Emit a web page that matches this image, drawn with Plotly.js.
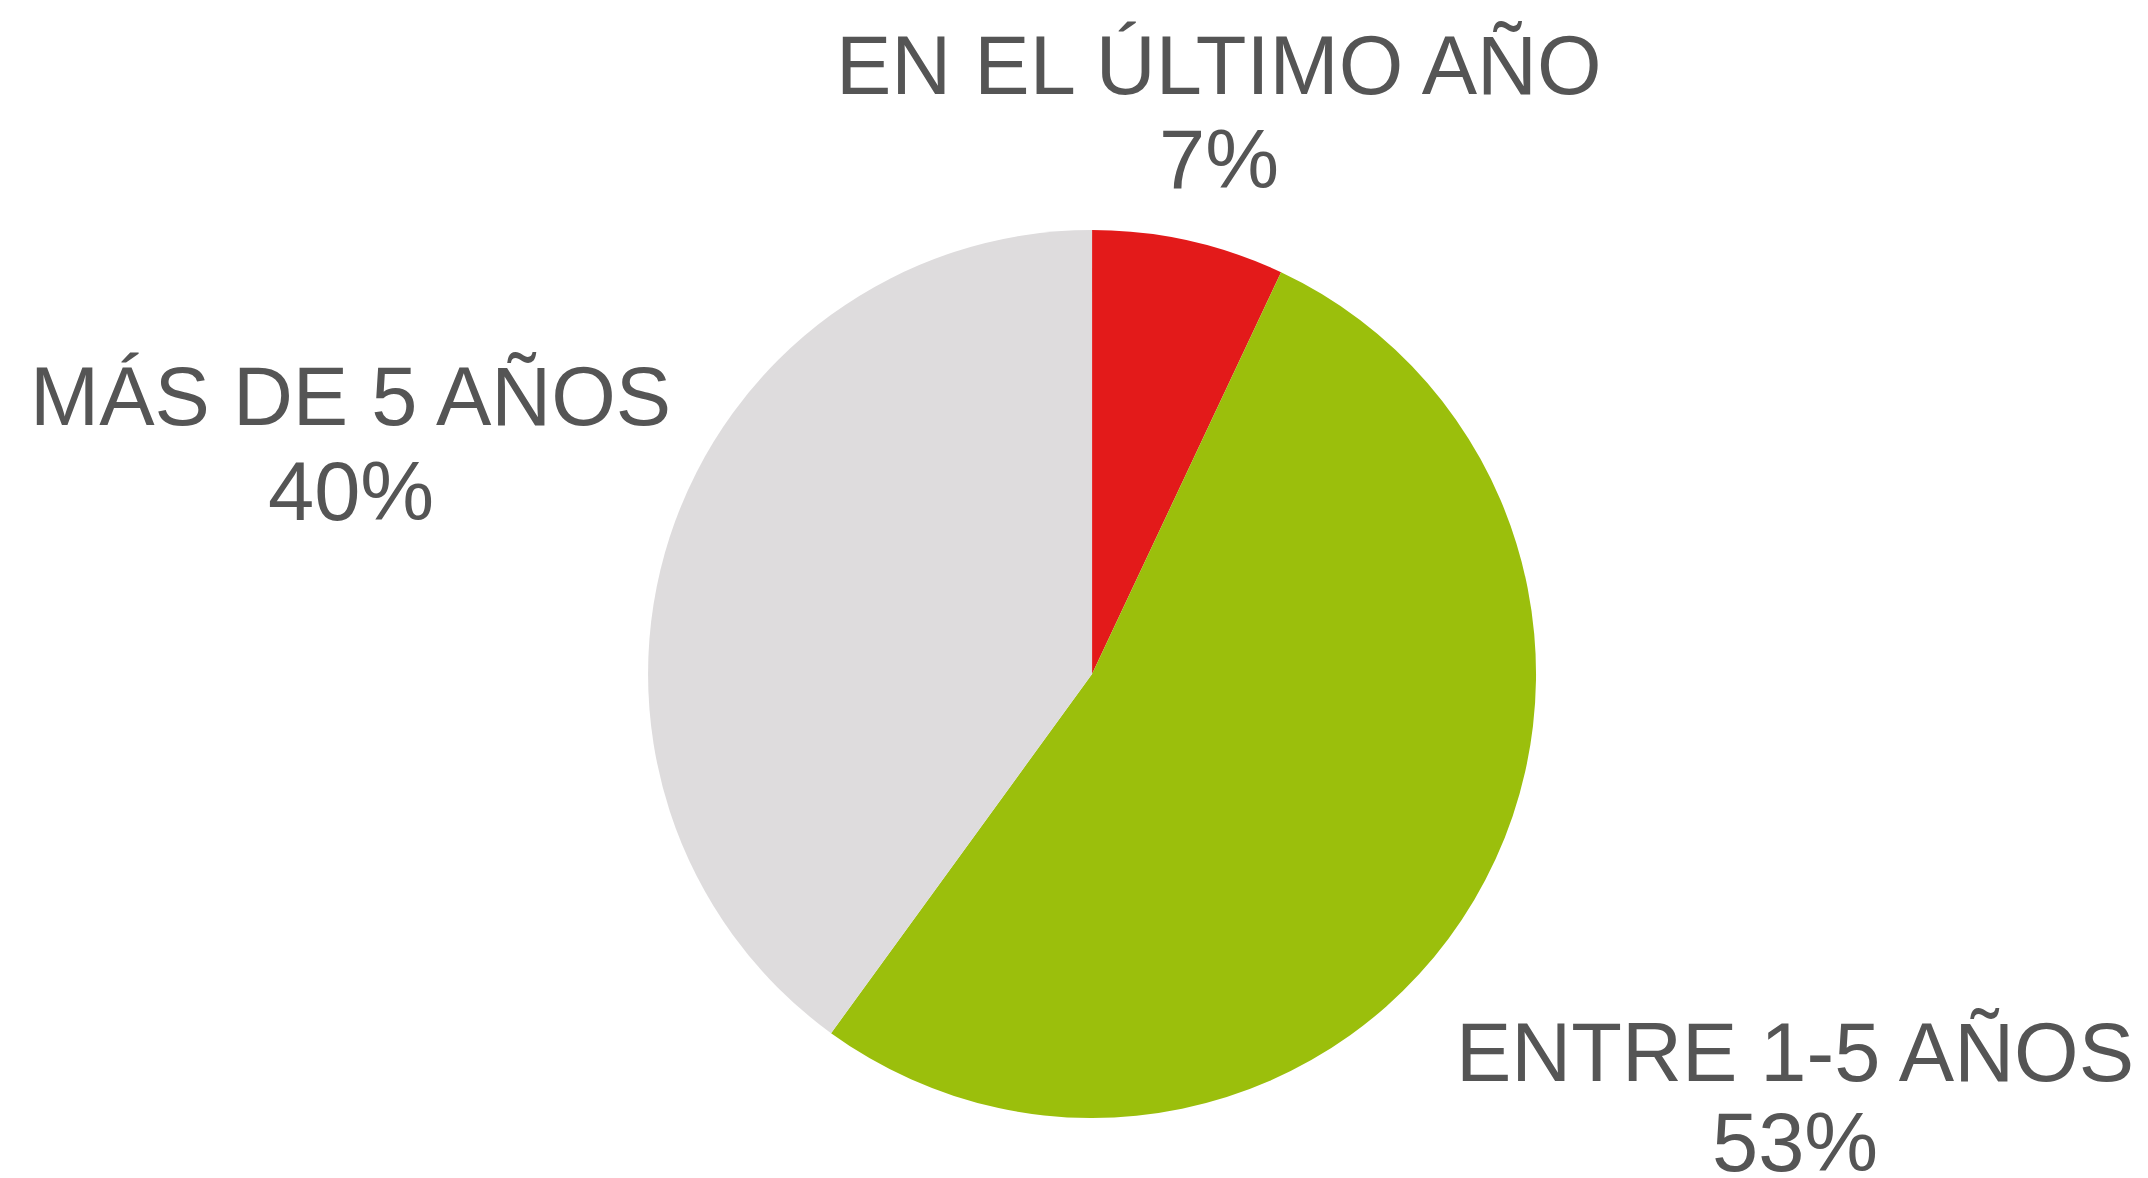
<!DOCTYPE html>
<html>
<head>
<meta charset="utf-8">
<script src="https://cdn.plot.ly/plotly-3.0.1.min.js"></script>
<style>html,body{margin:0;padding:0;background:#fff;}#chart{width:2148px;height:1178px;}</style>
</head>
<body>
<div id="chart"></div>
<script>
const categories = ["EN EL ÚLTIMO AÑO", "ENTRE 1-5 AÑOS", "MÁS DE 5 AÑOS"];
const values = [7, 53, 40];
const colors = ["#E31A1A", "#9BBF0C", "#DEDCDD"];
// label placement (paper coords): [x, yName, yPct]
const labelPos = [[0.5675, 0.9440, 0.8650], [0.8355, 0.1065, 0.0300], [0.1632, 0.6635, 0.5825]];

const textFont = {family: "Liberation Sans, Arial, sans-serif", size: 83, color: "#555555"};
const annotations = [];
categories.forEach((c, i) => {
  annotations.push({text: c, x: labelPos[i][0], y: labelPos[i][1], xref: "paper", yref: "paper",
    xanchor: "center", yanchor: "middle", showarrow: false, font: textFont});
  annotations.push({text: values[i] + "%", x: labelPos[i][0], y: labelPos[i][2], xref: "paper", yref: "paper",
    xanchor: "center", yanchor: "middle", showarrow: false, font: textFont});
});

Plotly.newPlot("chart", [{
  type: "pie",
  labels: categories,
  values: values,
  marker: {colors: colors, line: {width: 0}},
  sort: false,
  direction: "clockwise",
  rotation: 0,
  textinfo: "none",
  hoverinfo: "label+percent",
  domain: {x: [0.3017, 0.7151], y: [0.0509, 0.8048]}
}], {
  width: 2148, height: 1178,
  margin: {l: 0, r: 0, t: 0, b: 0},
  showlegend: false,
  paper_bgcolor: "#ffffff",
  annotations: annotations
}, {displayModeBar: false});
</script>
</body>
</html>
